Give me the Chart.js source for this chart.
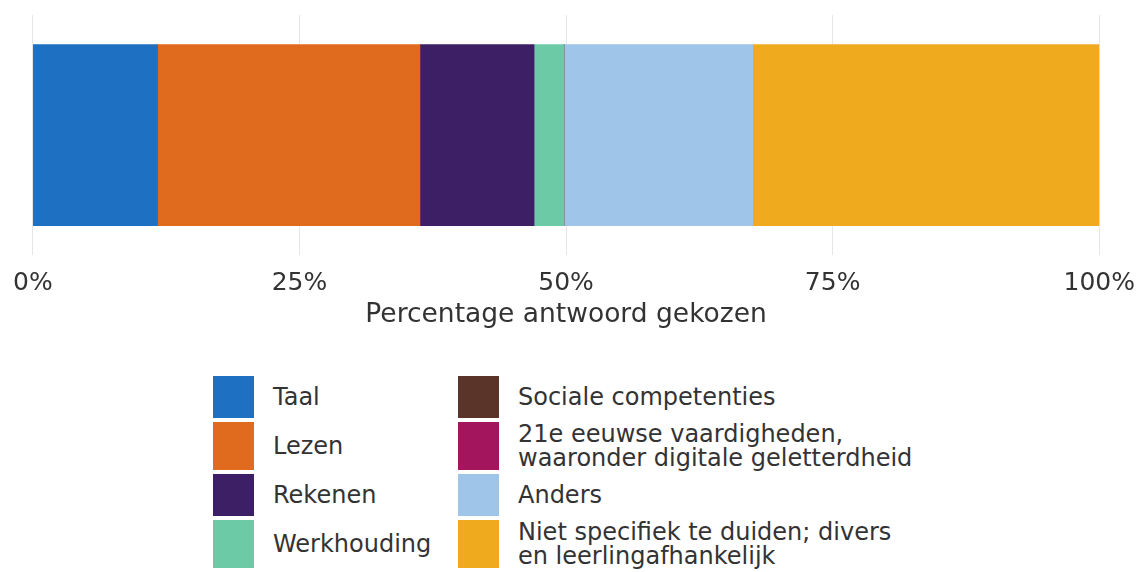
<!DOCTYPE html>
<html>
<head>
<meta charset="utf-8">
<script src="https://cdn.jsdelivr.net/npm/chart.js@4/dist/chart.umd.min.js"></script>
<style>
  body { margin: 0; background: #fff; width: 1140px; height: 572px; overflow: hidden; position: relative; font-family: "DejaVu Sans", Verdana, sans-serif; color: #333; }
  #wrap { position: absolute; left: 0; top: 0; width: 1148px; height: 345px; }
  #legend { position: absolute; left: 213px; top: 376px; display: grid; grid-auto-flow: column; grid-template-rows: repeat(4, auto); grid-template-columns: 245px auto; row-gap: 4px; }
  .item { display: flex; align-items: stretch; min-height: 42px; }
  .box { width: 41px; flex: none; }
  .txt { margin-left: 19px; font-size: 24px; line-height: 24px; white-space: pre-line; display: flex; align-items: center; }
</style>
</head>
<body>
<div id="wrap"><canvas id="chart" width="1148" height="345"></canvas></div>
<div id="legend"></div>
<script>
// categorieen en percentages
const categories = ['Taal', 'Lezen', 'Rekenen', 'Werkhouding', 'Sociale competenties',
  '21e eeuwse vaardigheden,\nwaaronder digitale geletterdheid', 'Anders',
  'Niet specifiek te duiden; divers\nen leerlingafhankelijk'];
const percentages = [11.7, 24.6, 10.7, 2.8, 0, 0, 17.7, 32.5];
const colors = ['#1d70c2', '#e06b1f', '#3d1f66', '#6ccaa6', '#5a3428', '#a3155c', '#9fc6e9', '#f0aa1e'];
const tickValues = [0, 25, 50, 75, 100];

var datasets = categories.map(function (c, i) {
  return { label: c, data: [percentages[i]], backgroundColor: colors[i], borderWidth: 0, barThickness: 181, stack: 's' };
});

var ctx = document.getElementById('chart').getContext('2d');
var myChart = new Chart(ctx, {
  type: 'bar',
  data: { labels: [''], datasets: datasets },
  options: {
    indexAxis: 'y',
    responsive: false,
    animation: false,
    layout: { padding: { left: 11, right: 0, top: 15, bottom: 14 } },
    plugins: { legend: { display: false }, tooltip: { enabled: false } },
    scales: {
      x: {
        stacked: true,
        min: 0, max: 100,
        afterBuildTicks: function (axis) { axis.ticks = tickValues.map(function (v) { return { value: v }; }); },
        grid: { color: '#e6e6e6', lineWidth: 1, drawTicks: false },
        border: { display: false },
        ticks: {
          padding: 13,
          color: '#333',
          font: { family: 'DejaVu Sans', size: 25 },
          callback: function (v) { return v + '%'; }
        },
        title: {
          display: true,
          text: 'Percentage antwoord gekozen',
          color: '#333',
          font: { family: 'DejaVu Sans', size: 26.5 },
          padding: { top: -12, bottom: 0 }
        }
      },
      y: { stacked: true, display: false }
    }
  }
});

// legenda in twee kolommen
const legend = document.getElementById('legend');
categories.forEach(function (c, i) {
  var item = document.createElement('div');
  item.className = 'item';
  item.innerHTML = '<div class="box" style="background:' + colors[i] + '"></div><div class="txt"></div>';
  item.querySelector('.txt').textContent = c;
  legend.appendChild(item);
});
</script>
</body>
</html>
